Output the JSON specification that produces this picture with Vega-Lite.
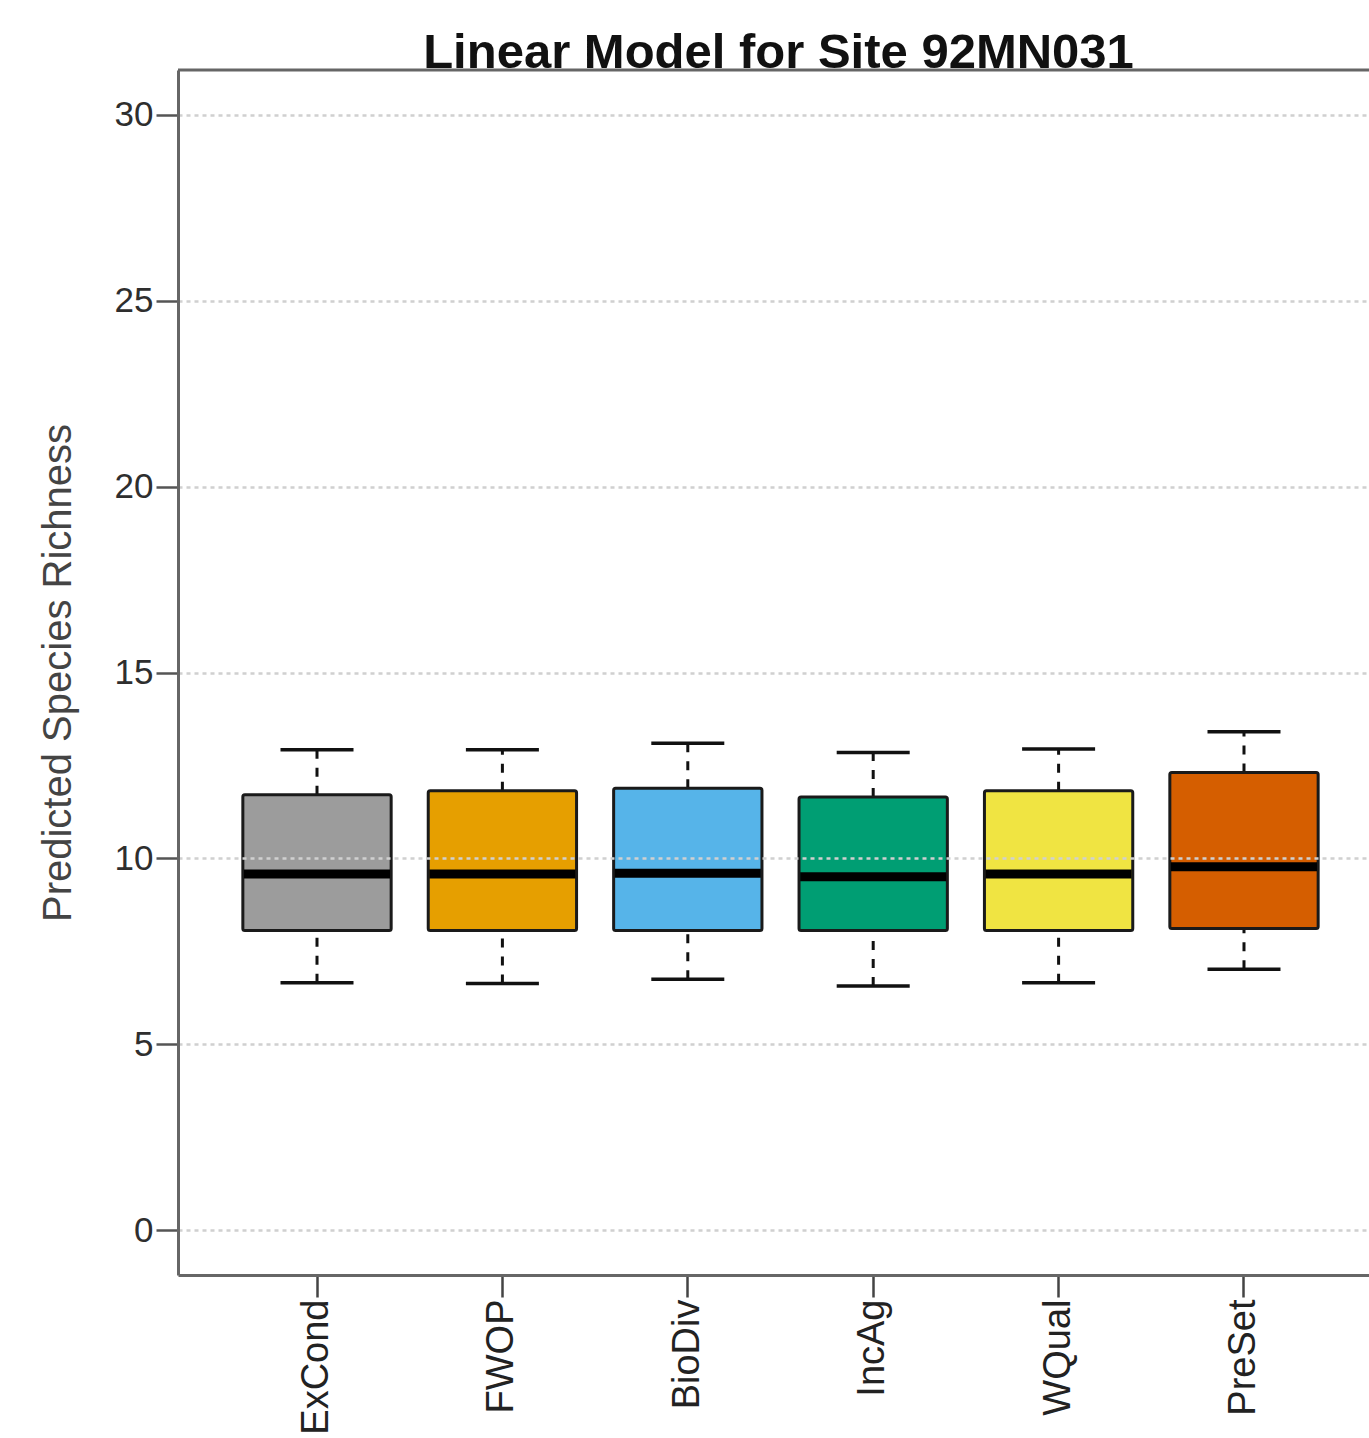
{
  "$schema": "https://vega.github.io/schema/vega-lite/v6.json",
  "autosize": {"type": "none"},
  "padding": {"left": 178, "top": 70, "right": 0, "bottom": 163},
  "width": 1191,
  "height": 1205,
  "background": "white",
  "config": {
    "view": {"stroke": null},
    "font": "Liberation Sans"
  },
  "title": {
    "text": "Linear Model for Site 92MN031",
    "fontSize": 49,
    "fontWeight": "bold",
    "color": "#111111",
    "frame": "group",
    "anchor": "middle",
    "baseline": "alphabetic",
    "offset": -48,
    "dx": 5
  },
  "data": {
    "values": [
      {"group": "ExCond", "lower": 6.66, "q1": 8.06, "median": 9.58, "q3": 11.71, "upper": 12.92},
      {"group": "FWOP", "lower": 6.64, "q1": 8.06, "median": 9.58, "q3": 11.82, "upper": 12.92},
      {"group": "BioDiv", "lower": 6.75, "q1": 8.06, "median": 9.6, "q3": 11.89, "upper": 13.1},
      {"group": "IncAg", "lower": 6.57, "q1": 8.06, "median": 9.51, "q3": 11.65, "upper": 12.85},
      {"group": "WQual", "lower": 6.66, "q1": 8.06, "median": 9.58, "q3": 11.82, "upper": 12.94},
      {"group": "PreSet", "lower": 7.02, "q1": 8.12, "median": 9.78, "q3": 12.31, "upper": 13.41}
    ]
  },
  "layer": [
    {
      "mark": {"type": "rule", "color": "#111111", "strokeWidth": 3, "strokeDash": [9, 9]},
      "encoding": {
        "x": {
          "field": "group", "type": "nominal", "sort": null, "title": null,
          "scale": {"paddingInner": 0.2, "paddingOuter": 0.312, "align": 0.5605},
          "axis": {
            "title": null,
            "labelAngle": -90,
            "labelFontSize": 38,
            "labelColor": "#222222",
            "labelPadding": 2,
            "tickSize": 22,
            "tickColor": "#444444",
            "tickWidth": 2.5,
            "domainColor": "#666666",
            "domainWidth": 3,
            "grid": false
          }
        },
        "y": {
          "field": "q3", "type": "quantitative", "title": "Predicted Species Richness",
          "scale": {"domain": [-1.2, 31.2], "nice": false, "zero": false},
          "axis": {
            "title": "Predicted Species Richness",
            "titleFontSize": 40,
            "titleFontWeight": "normal",
            "titleColor": "#444444",
            "titlePadding": 36,
            "values": [0, 5, 10, 15, 20, 25, 30],
            "labelFontSize": 35,
            "labelColor": "#2e2e2e",
            "labelPadding": 3,
            "tickSize": 22,
            "tickColor": "#555555",
            "tickWidth": 2.5,
            "domainColor": "#666666",
            "domainWidth": 3,
            "grid": true,
            "gridColor": "#d0d0d0",
            "gridDash": [4, 4],
            "gridWidth": 2.5,
            "zindex": 1
          }
        },
        "y2": {"field": "upper"}
      }
    },
    {
      "mark": {"type": "rule", "color": "#111111", "strokeWidth": 3, "strokeDash": [9, 9]},
      "encoding": {
        "x": {"field": "group", "type": "nominal", "sort": null, "title": null},
        "y": {"field": "lower", "type": "quantitative", "title": "Predicted Species Richness", "scale": {"domain": [-1.2, 31.2], "nice": false, "zero": false}},
        "y2": {"field": "q1"}
      }
    },
    {
      "mark": {"type": "tick", "color": "#111111", "size": 73, "thickness": 3.5, "opacity": 1},
      "encoding": {
        "x": {"field": "group", "type": "nominal", "sort": null, "title": null},
        "y": {"field": "upper", "type": "quantitative", "title": "Predicted Species Richness", "scale": {"domain": [-1.2, 31.2], "nice": false, "zero": false}}
      }
    },
    {
      "mark": {"type": "tick", "color": "#111111", "size": 73, "thickness": 3.5, "opacity": 1},
      "encoding": {
        "x": {"field": "group", "type": "nominal", "sort": null, "title": null},
        "y": {"field": "lower", "type": "quantitative", "title": "Predicted Species Richness", "scale": {"domain": [-1.2, 31.2], "nice": false, "zero": false}}
      }
    },
    {
      "mark": {"type": "bar", "stroke": "#1a1a1a", "strokeWidth": 3, "cornerRadius": 2, "opacity": 1},
      "encoding": {
        "x": {"field": "group", "type": "nominal", "sort": null, "title": null},
        "y": {"field": "q1", "type": "quantitative", "title": "Predicted Species Richness", "scale": {"domain": [-1.2, 31.2], "nice": false, "zero": false}},
        "y2": {"field": "q3"},
        "color": {
          "field": "group", "type": "nominal", "legend": null,
          "scale": {
            "domain": ["ExCond", "FWOP", "BioDiv", "IncAg", "WQual", "PreSet"],
            "range": ["#9c9c9c", "#e69f00", "#56b4e9", "#009e73", "#f0e442", "#d55e00"]
          }
        }
      }
    },
    {
      "mark": {"type": "tick", "color": "#000000", "size": 146, "thickness": 9, "opacity": 1},
      "encoding": {
        "x": {"field": "group", "type": "nominal", "sort": null, "title": null},
        "y": {"field": "median", "type": "quantitative", "title": "Predicted Species Richness", "scale": {"domain": [-1.2, 31.2], "nice": false, "zero": false}}
      }
    },
    {
      "data": {"values": [{"edge": "top"}]},
      "mark": {"type": "rule", "color": "#666666", "strokeWidth": 3},
      "encoding": {
        "y": {"datum": 31.2, "type": "quantitative", "title": "Predicted Species Richness", "scale": {"domain": [-1.2, 31.2], "nice": false, "zero": false}}
      }
    }
  ]
}
